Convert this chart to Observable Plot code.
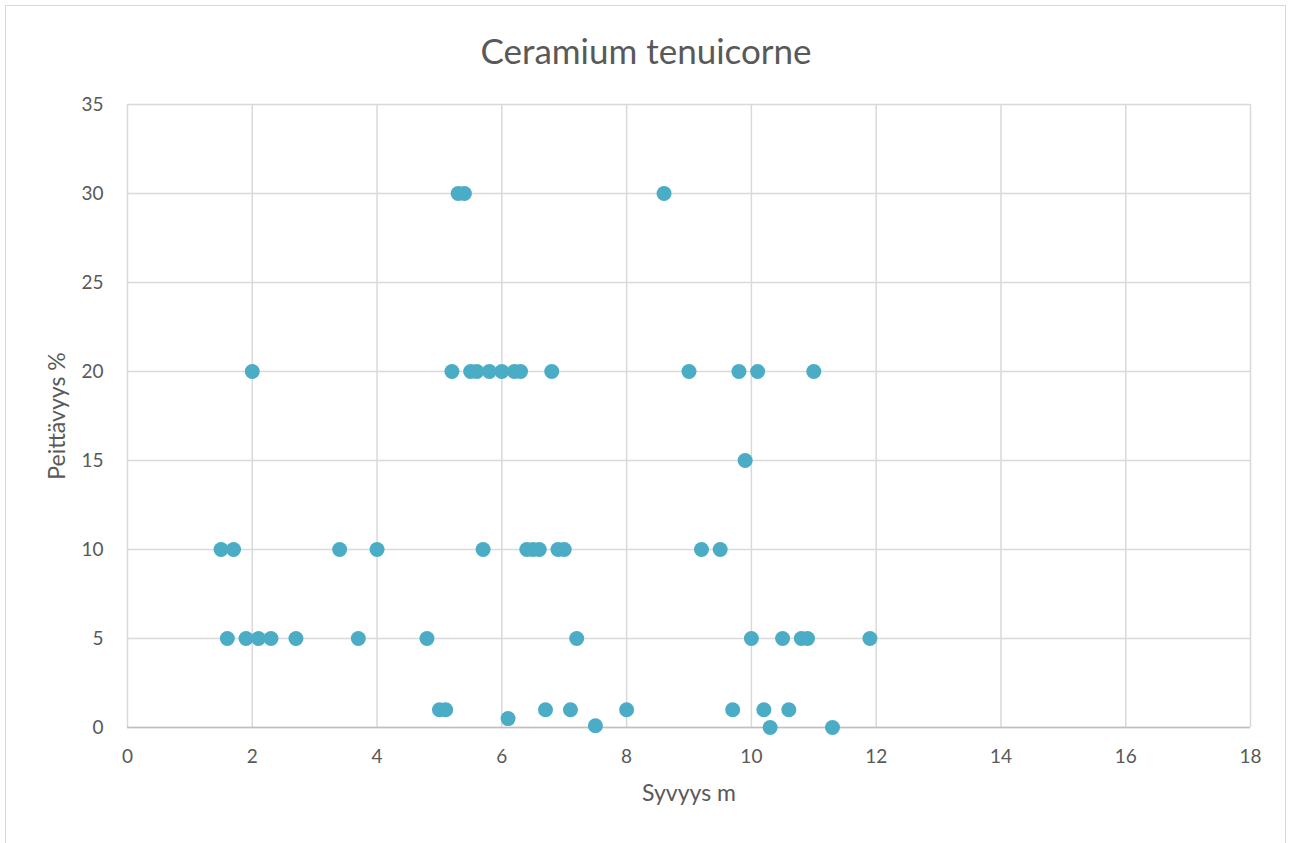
<!DOCTYPE html>
<html>
<head>
<meta charset="utf-8">
<script src="https://cdn.jsdelivr.net/npm/d3@7"></script>
<script src="https://cdn.jsdelivr.net/npm/@observablehq/plot@0.6"></script>
<style>
  html, body { margin: 0; padding: 0; background: #fff; }
  #wrap { position: relative; width: 1292px; height: 843px; font-family: Lato, "Open Sans", sans-serif; }
  #frame { position: absolute; left: 5px; top: 5px; width: 1281px; height: 845px; border: 1px solid #d9d9d9; box-sizing: border-box; }
  #title { position: absolute; left: 0; width: 1292px; top: 29px; text-align: center; font-size: 35px; line-height: 42px; color: #595959; }
  #chart { position: absolute; left: 0; top: 0; }
</style>
</head>
<body>
<div id="wrap">
  <div id="frame"></div>
  <div id="chart"></div>
  <div id="title">Ceramium tenuicorne</div>
</div>
<script>
// Depth (m) and coverage (%)
const depth = [
  1.5, 1.7, 3.4, 4.0, 5.7, 6.4, 6.5, 6.6, 6.9, 7.0, 9.2, 9.5,
  1.6, 1.9, 2.1, 2.3, 2.7, 3.7, 4.8, 7.2, 10.0, 10.5, 10.8, 10.9, 11.9,
  5.0, 5.1, 6.7, 7.1, 8.0, 9.7, 10.2, 10.6,
  6.1, 7.5, 10.3, 11.3,
  2.0, 5.2, 5.5, 5.6, 5.8, 6.0, 6.2, 6.3, 6.8, 9.0, 9.8, 10.1, 11.0,
  9.9,
  5.3, 5.4, 8.6
];
const coverage = [
  10, 10, 10, 10, 10, 10, 10, 10, 10, 10, 10, 10,
  5, 5, 5, 5, 5, 5, 5, 5, 5, 5, 5, 5, 5,
  1, 1, 1, 1, 1, 1, 1, 1,
  0.5, 0.1, 0, 0,
  20, 20, 20, 20, 20, 20, 20, 20, 20, 20, 20, 20, 20,
  15,
  30, 30, 30
];
const xTicks = [0, 2, 4, 6, 8, 10, 12, 14, 16, 18];
const yTicks = [0, 5, 10, 15, 20, 25, 30, 35];
const xLabel = "Syvyys m";
const yLabel = "Peittävyys %";

const data = depth.map((d, i) => ({depth: d, coverage: coverage[i]}));

const chart = Plot.plot({
  width: 1292,
  height: 843,
  marginLeft: 127,
  marginRight: 42,
  marginTop: 104,
  marginBottom: 116,
  style: {fontFamily: "Lato, 'Open Sans', sans-serif", fontSize: "19px", color: "#595959", background: "transparent"},
  x: {domain: [0, 18]},
  y: {domain: [0, 35]},
  marks: [
    Plot.gridX(xTicks, {stroke: "#d9d9d9", strokeOpacity: 1, strokeWidth: 1.5}),
    Plot.gridY(yTicks, {stroke: "#d9d9d9", strokeOpacity: 1, strokeWidth: 1.5}),
    Plot.ruleY([0], {stroke: "#bfbfbf", strokeWidth: 1.5}),
    Plot.axisX(xTicks, {tickSize: 0, tickPadding: 22, label: null, fontSize: 19, fill: "#595959"}),
    Plot.axisY(yTicks, {tickSize: 0, tickPadding: 24, label: null, fontSize: 19, fill: "#595959"}),
    Plot.text([xLabel], {frameAnchor: "bottom", dy: 73, fontSize: 23, fill: "#595959"}),
    Plot.text([yLabel], {frameAnchor: "left", dx: -70, rotate: -90, textAnchor: "middle", fontSize: 23, fill: "#595959"}),
    Plot.dot(data, {x: "depth", y: "coverage", r: 7.5, fill: "#4bacc6", stroke: "none"})
  ]
});
document.getElementById("chart").appendChild(chart);
</script>
</body>
</html>
